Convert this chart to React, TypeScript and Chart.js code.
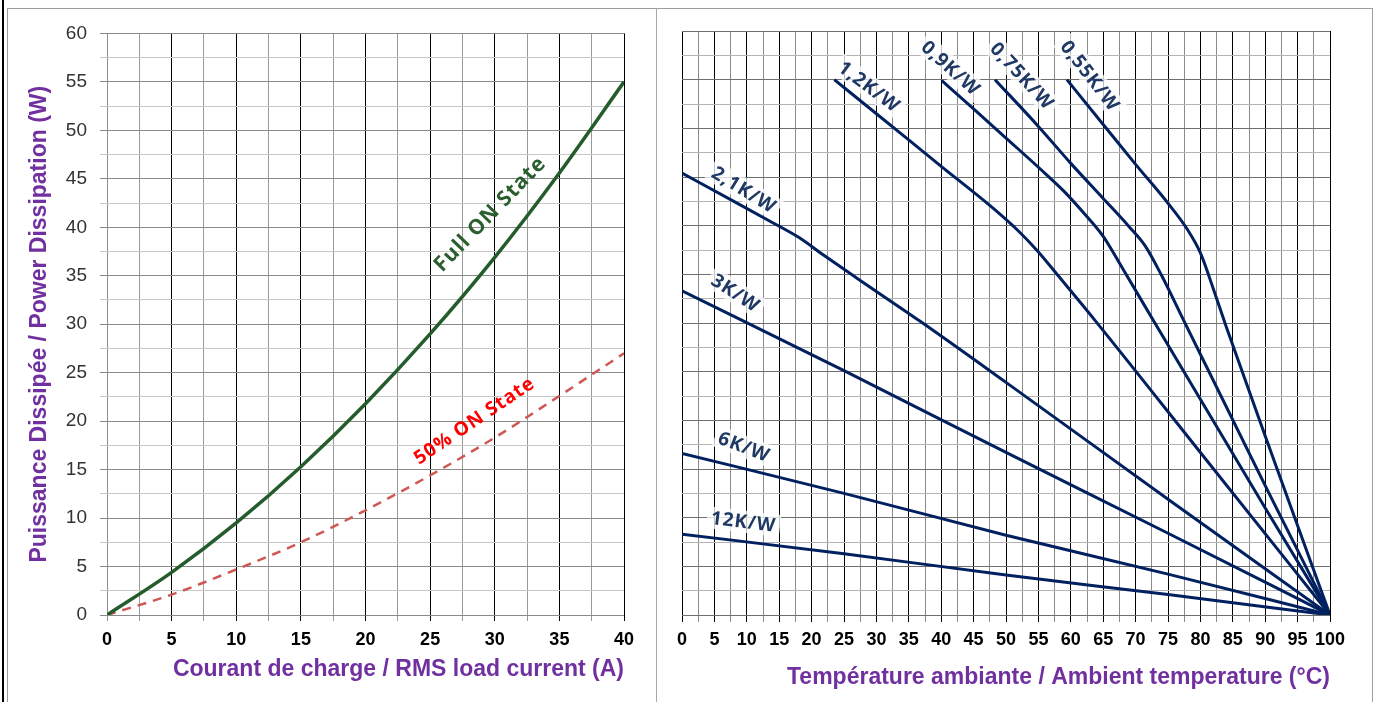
import React, { useEffect, useRef } from "react";
import { Chart, registerables } from "chart.js";

Chart.register(...registerables);

// ---------- Left chart data: power dissipation vs RMS load current ----------
const currentA = [0, 5, 10, 15, 20, 25, 30, 35, 40];
const fullOnW = [0, 4.4, 9.5, 15.3, 21.8, 29.0, 36.9, 45.6, 55.0];
const halfOnW = [0, 2.1, 4.7, 7.5, 10.8, 14.4, 18.3, 22.6, 27.0];
const leftSeriesNames = ["Full ON State", "50% ON State"];

// ---------- Right chart data: derating vs ambient temperature ----------
const r12kT = [0, 25, 50, 75, 100];
const r12kP = [8.3, 6.3, 4.1, 2.1, 0];
const r6kT = [0, 25, 50, 75, 100];
const r6kP = [16.6, 12.5, 8.2, 4.2, 0];
const r3kT = [0, 25, 50, 75, 100];
const r3kP = [33.3, 25.1, 16.7, 8.4, 0];
const r21kT = [0, 8, 14, 18, 22, 27, 36.7, 50, 75, 100];
const r21kP = [45.4, 42.5, 40.3, 38.8, 36.9, 34.6, 30.2, 23.9, 11.9, 0];
const r12T = [23.5, 30, 40, 48, 52, 55, 58, 63.7, 80, 100];
const r12P = [55.0, 51.5, 46.1, 41.8, 39.4, 37.3, 34.9, 30.3, 16.7, 0];
const r09T = [40.1, 45, 50, 55, 59, 62, 65, 68, 72.7, 90, 100];
const r09P = [54.9, 52.0, 49.0, 46.0, 43.5, 41.3, 38.9, 35.6, 30.3, 11.0, 0];
const r075T = [48.3, 55, 60, 65, 69, 71.5, 74, 77.4, 90, 100];
const r075P = [55.0, 50.2, 46.4, 42.8, 39.9, 37.9, 34.9, 30.3, 13.3, 0];
const r055T = [59.4, 65, 70, 75, 78, 80, 82, 84, 90, 100];
const r055P = [55.0, 50.4, 46.3, 42.3, 39.6, 37.2, 33.5, 29.6, 18.4, 0];
const rthNames = ["12K/W", "6K/W", "3K/W", "2,1K/W", "1,2K/W", "0,9K/W", "0,75K/W", "0,55K/W"];

// label anchors (data coordinates) and angles
const leftNoteX = [29.6, 28.4];
const leftNoteY = [41.4, 20.1];
const leftNoteAngle = [-46, -34];
const rthNoteT = [9.5, 9.6, 8.3, 9.6, 28.9, 41.5, 52.5, 63.0];
const rthNoteP = [9.6, 17.3, 33.1, 43.7, 54.3, 56.2, 55.4, 55.4];
const rthNoteAngle = [7, 21, 33, 31.5, 37, 42, 47, 52];

const xTitleLeft = "Courant de charge / RMS load current (A)";
const yTitleLeft = "Puissance Dissipée / Power Dissipation (W)";
const xTitleRight = "Température ambiante / Ambient temperature (°C)";

const TICK_FONT = "'Liberation Sans', Arial, sans-serif";
const TITLE_COLOR = "#7030a0";
const NAVY = "#002060";
const NAVY_TEXT = "#1f3864";

const pts = (xs: number[], ys: number[]) => xs.map((x, i) => ({ x, y: ys[i] }));

type Note = {
  text: string;
  x: number;
  y: number;
  angle: number;
  color: string;
  font: string;
  halo: boolean;
};

function notesPlugin(notes: Note[]) {
  return {
    id: "notes",
    afterDatasetsDraw(chart: any) {
      const { ctx, scales } = chart;
      for (const n of notes) {
        const px = scales.x.getPixelForValue(n.x);
        const py = scales.y.getPixelForValue(n.y);
        ctx.save();
        ctx.translate(px, py);
        ctx.rotate((n.angle * Math.PI) / 180);
        ctx.font = n.font;
        try {
          (ctx as any).letterSpacing = "1px";
        } catch (e) {}
        const w = ctx.measureText(n.text).width;
        if (n.halo) {
          ctx.fillStyle = "rgba(255,255,255,0.75)";
          ctx.fillRect(-w / 2 - 4, -11, w + 8, 22);
        }
        ctx.fillStyle = n.color;
        ctx.textAlign = "center";
        ctx.textBaseline = "middle";
        ctx.fillText(n.text, 0, 1);
        ctx.restore();
      }
    },
  };
}

const fmt5 = (v: any) => (Math.abs(Number(v) % 5) < 1e-6 ? String(v) : "");

export default function App() {
  const leftRef = useRef<HTMLCanvasElement>(null);
  const rightRef = useRef<HTMLCanvasElement>(null);

  useEffect(() => {
    document.body.style.margin = "0";
    Chart.defaults.font.family = TICK_FONT;

    const leftNotes: Note[] = leftSeriesNames.map((t, i) => ({
      text: t,
      x: leftNoteX[i],
      y: leftNoteY[i],
      angle: leftNoteAngle[i],
      color: i === 0 ? "#2a5e2e" : "#ff0000",
      font: i === 0 ? "bold 21px 'Open Sans'" : "bold 19px 'Open Sans'",
      halo: false,
    }));

    const rightNotes: Note[] = rthNames.map((t, i) => ({
      text: t,
      x: rthNoteT[i],
      y: rthNoteP[i],
      angle: rthNoteAngle[i],
      color: NAVY_TEXT,
      font: "bold 19px 'Open Sans'",
      halo: true,
    }));

    const titleFont = { family: TICK_FONT, size: 23, weight: "bold" as const };

    const left = new Chart(leftRef.current!, {
      type: "line",
      data: {
        datasets: [
          {
            label: leftSeriesNames[0],
            data: pts(currentA, fullOnW),
            borderColor: "#255c2c",
            borderWidth: 3.5,
            pointRadius: 0,
            cubicInterpolationMode: "monotone",
            fill: false,
          },
          {
            label: leftSeriesNames[1],
            data: pts(currentA, halfOnW),
            borderColor: "#cf5855",
            borderWidth: 2.5,
            borderDash: [9, 7],
            pointRadius: 0,
            cubicInterpolationMode: "monotone",
            fill: false,
          },
        ],
      },
      options: {
        animation: false,
        responsive: false,
        maintainAspectRatio: false,
        layout: { padding: { left: 0, top: 22, right: 32, bottom: 0 } },
        plugins: { legend: { display: false }, tooltip: { enabled: false } },
        scales: {
          x: {
            type: "linear",
            min: 0,
            max: 40,
            afterFit: (s: any) => {
              s.height = 87;
            },
            border: { display: false },
            grid: {
              tickLength: 6,
              color: (c: any) => {
                const v = c.tick ? c.tick.value : 0;
                if (v === 0) return "#8c8c8c";
                return Math.abs(v % 5) < 1e-6 ? "#000000" : "#9a9a9a";
              },
            },
            ticks: {
              stepSize: 2.5,
              autoSkip: false,
              maxRotation: 0,
              padding: 8,
              color: "#000",
              font: { family: TICK_FONT, size: 18, weight: "bold" },
              callback: fmt5,
            },
            title: {
              display: true,
              text: xTitleLeft,
              align: "end",
              color: TITLE_COLOR,
              font: titleFont,
              padding: { top: 0, bottom: 19 },
            },
          },
          y: {
            type: "linear",
            min: 0,
            max: 60,
            afterFit: (s: any) => {
              s.width = 99;
            },
            border: { display: false },
            grid: {
              tickLength: 7,
              color: (c: any) => {
                const v = c.tick ? c.tick.value : 0;
                return Math.abs(v % 5) < 1e-6 ? "#8a8a8a" : "#c8c8c8";
              },
            },
            ticks: {
              stepSize: 2.5,
              autoSkip: false,
              padding: 13,
              color: "#333",
              font: { family: TICK_FONT, size: 19 },
              callback: fmt5,
            },
            title: {
              display: true,
              text: yTitleLeft,
              color: TITLE_COLOR,
              font: titleFont,
              padding: { top: 18, bottom: 0 },
            },
          },
        },
      } as any,
      plugins: [notesPlugin(leftNotes)],
    });

    const rSeries = [
      [r12kT, r12kP],
      [r6kT, r6kP],
      [r3kT, r3kP],
      [r21kT, r21kP],
      [r12T, r12P],
      [r09T, r09P],
      [r075T, r075P],
      [r055T, r055P],
    ];

    const right = new Chart(rightRef.current!, {
      type: "line",
      data: {
        datasets: rSeries.map(([t, p], i) => ({
          label: rthNames[i],
          data: pts(t as number[], p as number[]),
          borderColor: NAVY,
          borderWidth: 3,
          pointRadius: 0,
          cubicInterpolationMode: "monotone",
          fill: false,
        })),
      },
      options: {
        animation: false,
        responsive: false,
        maintainAspectRatio: false,
        layout: { padding: { left: 0, top: 22, right: 42, bottom: 0 } },
        plugins: { legend: { display: false }, tooltip: { enabled: false } },
        scales: {
          x: {
            type: "linear",
            min: 0,
            max: 100,
            afterFit: (s: any) => {
              s.height = 87;
            },
            border: { display: false },
            grid: {
              tickLength: 7,
              color: (c: any) => {
                const v = c.tick ? c.tick.value : 0;
                return Math.abs(v % 5) < 1e-6 ? "#000000" : "#8a8a8a";
              },
            },
            ticks: {
              stepSize: 2.5,
              autoSkip: false,
              maxRotation: 0,
              padding: 7,
              color: "#000",
              font: { family: TICK_FONT, size: 18, weight: "bold" },
              callback: fmt5,
            },
            title: {
              display: true,
              text: xTitleRight,
              align: "end",
              color: TITLE_COLOR,
              font: titleFont,
              padding: { top: 0, bottom: 11 },
            },
          },
          y: {
            type: "linear",
            min: 0,
            max: 60,
            afterFit: (s: any) => {
              s.width = 25;
            },
            border: { display: false },
            grid: {
              drawTicks: false,
              color: (c: any) => {
                const v = c.tick ? c.tick.value : 0;
                return Math.abs(v % 5) < 1e-6 ? "#6e6e6e" : "#b4b4b4";
              },
            },
            ticks: { stepSize: 2.5, autoSkip: false, display: false },
          },
        },
      } as any,
      plugins: [notesPlugin(rightNotes)],
    });

    return () => {
      left.destroy();
      right.destroy();
    };
  }, []);

  return (
    <div
      style={{
        position: "relative",
        width: 1378,
        height: 702,
        background: "#ffffff",
        overflow: "hidden",
      }}
    >
      <div style={{ position: "absolute", left: 2, top: 0, width: 2, height: 702, background: "#000" }} />
      <div
        style={{
          position: "absolute",
          left: 7,
          top: 8,
          width: 1366,
          height: 720,
          border: "1px solid #9d9d9d",
          boxSizing: "border-box",
        }}
      />
      <div style={{ position: "absolute", left: 656, top: 8, width: 1, height: 700, background: "#a8a8a8" }} />
      <canvas
        ref={leftRef}
        width={648}
        height={693}
        style={{ position: "absolute", left: 8, top: 9, width: 648, height: 693 }}
      />
      <canvas
        ref={rightRef}
        width={715}
        height={693}
        style={{ position: "absolute", left: 657, top: 9, width: 715, height: 693 }}
      />
    </div>
  );
}
